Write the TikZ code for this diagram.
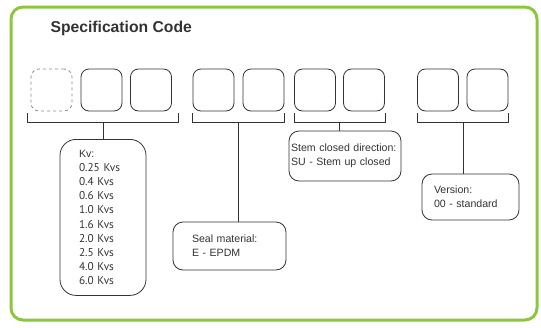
\documentclass[tikz,border=0pt]{standalone}
\usepackage{fontspec}
\setmainfont{Liberation Sans}
\newfontfamily\kvfont{PT Sans}
\definecolor{framegreen}{RGB}{140,198,63}
\definecolor{ink}{RGB}{51,51,51}
\begin{document}
\begin{tikzpicture}[x=1pt, y=-1pt,
  slot/.style={draw=ink, line width=0.8pt, rounded corners=8pt, minimum width=41pt, minimum height=42pt, inner sep=0pt},
  spare/.style={slot, draw=black!45, dashed},
  info/.style={draw=ink, line width=0.8pt, rounded corners=10pt, align=left, text=ink, font=\fontsize{10.6}{14}\selectfont, inner ysep=0pt},
  brace/.style={draw=ink, line width=0.8pt}
]
  \useasboundingbox (0,0) rectangle (541,327);
  \draw[line width=3pt, draw=framegreen, rounded corners=12pt] (11,7) rectangle (537,320);
  \node[font=\fontsize{15.7}{18}\selectfont\bfseries, text=ink, anchor=base west] (title) at (47,32) {Specification Code};

  % code positions
  \node[spare] (s1) at (51.5,90) {};
  \node[slot] (s2) at (101.5,90) {};
  \node[slot] (s3) at (151,90) {};
  \node[slot] (s4) at (213.5,90) {};
  \node[slot] (s5) at (263.5,90) {};
  \node[slot] (s6) at (315,90) {};
  \node[slot] (s7) at (364,90) {};
  \node[slot] (s8) at (438,90) {};
  \node[slot] (s9) at (487.5,90) {};

  % brackets under each group
  \draw[brace] ([shift={(-3,2)}]s1.south west) -- ++(0,9) -| ([shift={(6,2)}]s3.south east);
  \draw[brace] ([shift={(0,2)}]s4.south west) -- ++(0,9) -| ([shift={(0,2)}]s5.south east);
  \draw[brace] ([shift={(0,2)}]s6.south west) -- ++(0,9) -| ([shift={(0,2)}]s7.south east);
  \draw[brace] ([shift={(0,2)}]s8.south west) -- ++(0,9) -| ([shift={(0,2)}]s9.south east);
  \coordinate (kvjoin) at (103,122);
  \coordinate (sealjoin) at (238,122);
  \coordinate (stemjoin) at (339,122);
  \coordinate (verjoin) at (463,122);

  % descriptions
  \node[info, rounded corners=16pt, anchor=north, minimum width=86pt, minimum height=156pt, text width=48pt, inner xsep=19pt,
    font=\kvfont\fontsize{11.3}{14.1}\selectfont] (kv) at (103,139)
    {{\rmfamily\fontsize{10.6}{14.1}\selectfont Kv:}\\0.25 Kvs\\0.4 Kvs\\0.6 Kvs\\1.0 Kvs\\1.6 Kvs\\2.0 Kvs\\2.5 Kvs\\4.0 Kvs\\6.0 Kvs};
  \node[info, minimum width=113pt, minimum height=48pt, text width=75pt, inner xsep=19pt] (seal) at (229.5,246) {Seal material:\\E - EPDM};
  \node[info, minimum width=112pt, minimum height=50pt, text width=108pt, inner xsep=2pt] (stem) at (345,156) {Stem closed direction:\\SU - Stem up closed};
  \node[info, minimum width=97pt, minimum height=46pt, text width=73pt, inner xsep=12pt] (ver) at (470.5,197) {Version:\\00 - standard};

  \draw[brace] (kvjoin) -- (kv.north);
  \draw[brace] (sealjoin) -- (sealjoin |- seal.north);
  \draw[brace] (stemjoin) -- (stemjoin |- stem.north);
  \draw[brace] (verjoin) -- (verjoin |- ver.north);
\end{tikzpicture}
\end{document}
